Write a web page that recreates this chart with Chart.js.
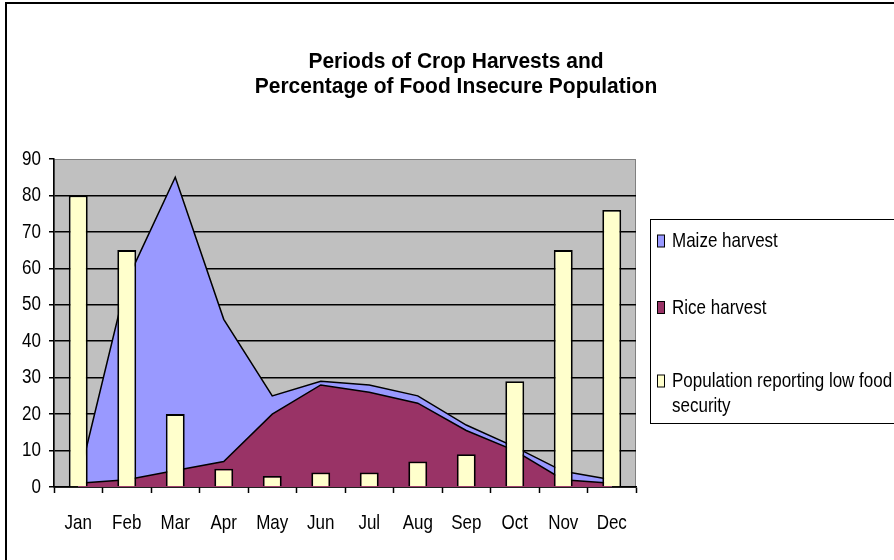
<!DOCTYPE html>
<html>
<head>
<meta charset="utf-8">
<script src="https://cdn.jsdelivr.net/npm/chart.js@4.4.1/dist/chart.umd.min.js"></script>
<style>
  html, body { margin: 0; padding: 0; background: #fff; }
  canvas { display: block; }
</style>
</head>
<body>
<canvas id="chart" width="894" height="560"></canvas>
<script>
// Monthly categories
const months = ['Jan', 'Feb', 'Mar', 'Apr', 'May', 'Jun', 'Jul', 'Aug', 'Sep', 'Oct', 'Nov', 'Dec'];

// Harvest periods (% of harvest activity per month)
const maizeHarvest = [1.5, 56.5, 85, 46, 25, 29, 28, 25, 17, 11, 4.3, 2];
const riceHarvest  = [1, 2, 4.5, 7, 20, 28, 26, 23, 15.5, 10, 2, 1];

// Share of population reporting low food security (%)
const lowFoodSecurity = [80, 65, 20, 5, 3, 4, 4, 7, 9, 29, 65, 76];

// Value axis
const yMin = 0;
const yMax = 90;
const yStep = 10;

const seriesNames = ['Maize harvest', 'Rice harvest', 'Population reporting low food security'];
const titleLines = ['Periods of Crop Harvests and', 'Percentage of Food Insecure Population'];

const FONT = '"Liberation Sans", Arial, sans-serif';
const LABEL_SIZE = 17;
const STRETCH = 1.22;   // labels are drawn a little taller than wide

// draw one line of text with a vertical stretch around its anchor point
function tallText(ctx, text, x, y, sy) {
  ctx.save();
  ctx.translate(x, y);
  ctx.scale(1, sy);
  ctx.fillText(text, 0, 0);
  ctx.restore();
}

// Page frame, grey plot background, title, axis labels and legend box
const decor = {
  id: 'decor',
  beforeDraw(chart) {
    const { ctx, chartArea: a } = chart;
    ctx.save();
    ctx.fillStyle = '#ffffff';
    ctx.fillRect(0, 0, chart.width, chart.height);
    ctx.strokeStyle = '#000000';
    ctx.lineWidth = 2;
    ctx.strokeRect(6, 3, chart.width + 40, chart.height + 40);
    ctx.fillStyle = '#C0C0C0';
    ctx.fillRect(a.left, a.top, a.right - a.left, a.bottom - a.top);
    ctx.strokeStyle = '#808080';
    ctx.lineWidth = 1;
    ctx.strokeRect(a.left + 0.5, a.top + 0.5, a.right - a.left - 1, a.bottom - a.top);
    ctx.restore();
  },
  afterDraw(chart) {
    const { ctx } = chart;
    ctx.save();
    ctx.fillStyle = '#000';

    // title
    ctx.font = 'bold 21px ' + FONT;
    ctx.textAlign = 'center';
    ctx.textBaseline = 'middle';
    titleLines.forEach((t, i) => tallText(ctx, t, 456, 62 + i * 25, 1.05));

    // axis tick labels, placed by the scales
    ctx.font = LABEL_SIZE + 'px ' + FONT;
    const xs = chart.scales.x, ys = chart.scales.y;
    ctx.textAlign = 'center';
    xs.ticks.forEach((t, i) => {
      tallText(ctx, xs.getLabelForValue(t.value), xs.getPixelForTick(i), 523, STRETCH);
    });
    ctx.textAlign = 'right';
    ys.ticks.forEach((t, i) => {
      tallText(ctx, t.label, ys.left + 41, ys.getPixelForTick(i), STRETCH);
    });

    // legend box
    const bx = 650.5, by = 219.5, bh = 204;
    ctx.fillStyle = '#fff';
    ctx.fillRect(bx, by, chart.width, bh);
    ctx.strokeStyle = '#000';
    ctx.lineWidth = 1;
    ctx.strokeRect(bx, by, chart.width, bh);

    ctx.font = LABEL_SIZE + 'px ' + FONT;
    ctx.textAlign = 'left';
    const textX = 672, maxW = 226, lineH = 25;
    const rowY = [241.5, 308, 381.5];
    chart.data.datasets.forEach((ds, k) => {
      const y = rowY[k];
      // wrap words to the legend width
      const words = ds.label.split(' ');
      const lines = [];
      let cur = '';
      words.forEach(w => {
        const test = cur ? cur + ' ' + w : w;
        if (ctx.measureText(test).width > maxW && cur) { lines.push(cur); cur = w; }
        else cur = test;
      });
      lines.push(cur);
      ctx.fillStyle = ds.backgroundColor;
      ctx.fillRect(657.5, y - 6.5, 7, 12);
      ctx.strokeStyle = '#000';
      ctx.lineWidth = 1;
      ctx.strokeRect(657.5, y - 6.5, 7, 12);
      ctx.fillStyle = '#000';
      lines.forEach((l, i) => tallText(ctx, l, textX, y + i * lineH, STRETCH));
    });
    ctx.restore();
  }
};

new Chart(document.getElementById('chart'), {
  type: 'bar',
  data: {
    labels: months,
    datasets: [
      {
        type: 'line',
        label: seriesNames[0],
        data: maizeHarvest,
        backgroundColor: '#9999FF',
        borderColor: '#000000',
        borderWidth: 1.5,
        fill: 'origin',
        tension: 0,
        pointRadius: 0,
        order: 3
      },
      {
        type: 'line',
        label: seriesNames[1],
        data: riceHarvest,
        backgroundColor: '#993366',
        borderColor: '#000000',
        borderWidth: 1.5,
        fill: 'origin',
        tension: 0,
        pointRadius: 0,
        order: 2
      },
      {
        type: 'bar',
        label: seriesNames[2],
        data: lowFoodSecurity,
        backgroundColor: '#FFFFCC',
        borderColor: '#000000',
        borderWidth: 1.8,
        categoryPercentage: 1,
        barPercentage: 0.39,
        order: 1
      }
    ]
  },
  options: {
    responsive: false,
    animation: false,
    events: [],
    layout: { padding: { left: 0, top: 159, right: 258, bottom: 0 } },
    plugins: {
      legend: { display: false },
      title: { display: false },
      tooltip: { enabled: false }
    },
    scales: {
      x: {
        offset: true,
        afterFit(scale) { scale.height = 73; },
        border: { display: true, color: '#000', width: 1.5 },
        grid: {
          offset: true,
          drawOnChartArea: false,
          drawTicks: true,
          tickLength: 6,
          tickColor: '#000',
          tickWidth: 1.5
        },
        ticks: { display: false, maxRotation: 0 }
      },
      y: {
        min: yMin,
        max: yMax,
        afterFit(scale) { scale.width = 54; },
        border: { display: true, color: '#000', width: 1.5 },
        grid: {
          color: ctx => (ctx.tick && ctx.tick.value === yMax) ? 'rgba(0,0,0,0)' : '#000',
          lineWidth: 1.5,
          tickLength: 5,
          tickColor: '#000',
          tickWidth: 1.5
        },
        ticks: { display: false, stepSize: yStep }
      }
    }
  },
  plugins: [decor]
});
</script>
</body>
</html>
